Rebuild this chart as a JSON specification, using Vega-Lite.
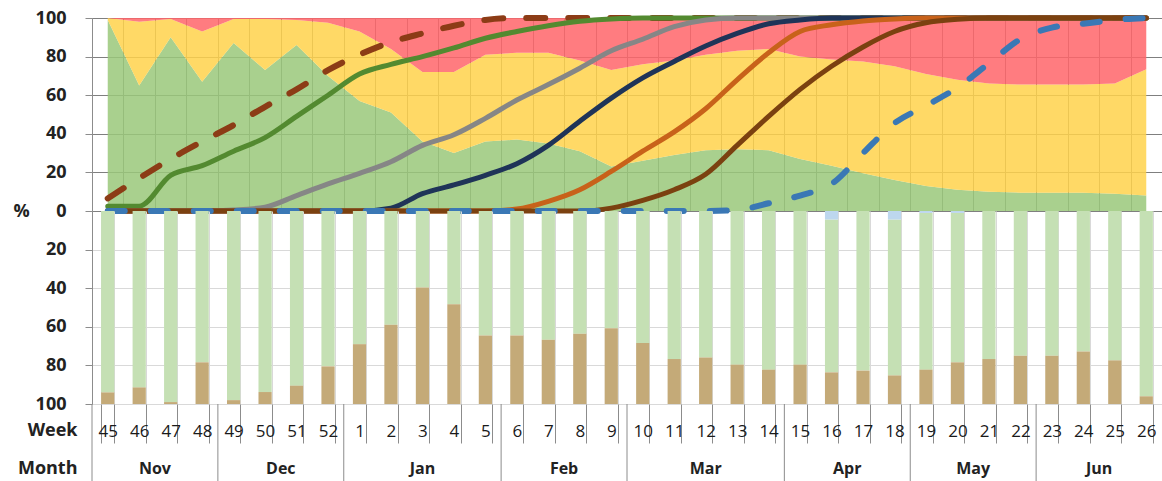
{
  "$schema": "https://vega.github.io/schema/vega-lite/v6.json",
  "background": "white",
  "padding": {"left": 13, "top": 6, "right": 0, "bottom": 0},
  "autosize": {"type": "pad"},
  "config": {
    "font": "Open Sans",
    "view": {"stroke": null},
    "axis": {"labelColor": "#222222", "titleColor": "#222222"},
    "axisY": {"labelOverlap": false, "labelFontSize": 18, "labelFontWeight": "bold", "labelPadding": 19, "tickSize": 7, "tickColor": "#8c8c8c", "domainColor": "#8c8c8c", "grid": true}
  },
  "datasets": {
    "weeks": [
      {"week": "45", "green": 99, "yellowTop": 100, "dashBrown": 6.5, "greenLine": 2.5, "gray": 0, "navy": 0, "orange": 0, "brown": 0, "dashBlue": 0, "barBlue": 0, "barGreen": 94, "barTan": 6},
      {"week": "46", "green": 65, "yellowTop": 98, "dashBrown": 17, "greenLine": 2.5, "gray": 0, "navy": 0, "orange": 0, "brown": 0, "dashBlue": 0, "barBlue": 0, "barGreen": 91.4, "barTan": 8.6},
      {"week": "47", "green": 90, "yellowTop": 99.5, "dashBrown": 27, "greenLine": 18.5, "gray": 0, "navy": 0, "orange": 0, "brown": 0, "dashBlue": 0, "barBlue": 0, "barGreen": 99, "barTan": 1},
      {"week": "48", "green": 67, "yellowTop": 93, "dashBrown": 36, "greenLine": 23.5, "gray": 0, "navy": 0, "orange": 0, "brown": 0, "dashBlue": 0, "barBlue": 0, "barGreen": 78.4, "barTan": 21.6},
      {"week": "49", "green": 87, "yellowTop": 99.5, "dashBrown": 44.5, "greenLine": 31, "gray": 0.5, "navy": 0, "orange": 0, "brown": 0, "dashBlue": 0, "barBlue": 0, "barGreen": 98, "barTan": 2},
      {"week": "50", "green": 73, "yellowTop": 99.5, "dashBrown": 54, "greenLine": 38, "gray": 2, "navy": 0, "orange": 0, "brown": 0, "dashBlue": 0, "barBlue": 0, "barGreen": 93.8, "barTan": 6.2},
      {"week": "51", "green": 86, "yellowTop": 99, "dashBrown": 63, "greenLine": 49, "gray": 8, "navy": 0, "orange": 0, "brown": 0, "dashBlue": 0, "barBlue": 0, "barGreen": 90.5, "barTan": 9.5},
      {"week": "52", "green": 70, "yellowTop": 97.5, "dashBrown": 73, "greenLine": 60, "gray": 14, "navy": 0, "orange": 0, "brown": 0, "dashBlue": 0, "barBlue": 0, "barGreen": 80.5, "barTan": 19.5},
      {"week": "1", "green": 57, "yellowTop": 93, "dashBrown": 81, "greenLine": 71, "gray": 19.5, "navy": 0, "orange": 0, "brown": 0, "dashBlue": 0, "barBlue": 0, "barGreen": 69, "barTan": 31},
      {"week": "2", "green": 51, "yellowTop": 84, "dashBrown": 87.5, "greenLine": 76, "gray": 25.5, "navy": 1.5, "orange": 0, "brown": 0, "dashBlue": 0, "barBlue": 0, "barGreen": 59, "barTan": 41},
      {"week": "3", "green": 36, "yellowTop": 72, "dashBrown": 92, "greenLine": 80, "gray": 34, "navy": 9, "orange": 0, "brown": 0, "dashBlue": 0, "barBlue": 0, "barGreen": 39.7, "barTan": 60.3},
      {"week": "4", "green": 30, "yellowTop": 72, "dashBrown": 96, "greenLine": 84.5, "gray": 39.5, "navy": 13.5, "orange": 0, "brown": 0, "dashBlue": 0, "barBlue": 0, "barGreen": 48.3, "barTan": 51.7},
      {"week": "5", "green": 36, "yellowTop": 81, "dashBrown": 99, "greenLine": 89.5, "gray": 48, "navy": 18.5, "orange": 0, "brown": 0, "dashBlue": 0, "barBlue": 0, "barGreen": 64.5, "barTan": 35.5},
      {"week": "6", "green": 37, "yellowTop": 82, "dashBrown": 100, "greenLine": 93, "gray": 57.5, "navy": 24.5, "orange": 1, "brown": 0, "dashBlue": 0, "barBlue": 0, "barGreen": 64.5, "barTan": 35.5},
      {"week": "7", "green": 35, "yellowTop": 82, "dashBrown": 100, "greenLine": 96, "gray": 65.5, "navy": 34, "orange": 5, "brown": 0, "dashBlue": 0, "barBlue": 0, "barGreen": 66.7, "barTan": 33.3},
      {"week": "8", "green": 31, "yellowTop": 78, "dashBrown": 100, "greenLine": 98.3, "gray": 74, "navy": 46.5, "orange": 11, "brown": 0, "dashBlue": 0, "barBlue": 0, "barGreen": 63.6, "barTan": 36.4},
      {"week": "9", "green": 23, "yellowTop": 73, "dashBrown": 100, "greenLine": 99.5, "gray": 83, "navy": 58.5, "orange": 20.5, "brown": 1.5, "dashBlue": 0, "barBlue": 0, "barGreen": 60.7, "barTan": 39.3},
      {"week": "10", "green": 26, "yellowTop": 76, "dashBrown": 100, "greenLine": 100, "gray": 89, "navy": 69, "orange": 31, "brown": 5.5, "dashBlue": 0, "barBlue": 0, "barGreen": 68.4, "barTan": 31.6},
      {"week": "11", "green": 29, "yellowTop": 78, "dashBrown": 100, "greenLine": 100, "gray": 95.5, "navy": 77.5, "orange": 41, "brown": 11, "dashBlue": 0, "barBlue": 0, "barGreen": 76.7, "barTan": 23.3},
      {"week": "12", "green": 31.5, "yellowTop": 81, "dashBrown": 100, "greenLine": 100, "gray": 99, "navy": 85.5, "orange": 53, "brown": 19, "dashBlue": 0, "barBlue": 0, "barGreen": 75.9, "barTan": 24.1},
      {"week": "13", "green": 32, "yellowTop": 83, "dashBrown": 100, "greenLine": 100, "gray": 100, "navy": 92, "orange": 68, "brown": 34, "dashBlue": 0.5, "barBlue": 0, "barGreen": 79.6, "barTan": 20.4},
      {"week": "14", "green": 31.5, "yellowTop": 84, "dashBrown": 100, "greenLine": 100, "gray": 100, "navy": 97, "orange": 82, "brown": 49, "dashBlue": 4, "barBlue": 0, "barGreen": 82.2, "barTan": 17.8},
      {"week": "15", "green": 27, "yellowTop": 80, "dashBrown": 100, "greenLine": 100, "gray": 100, "navy": 99, "orange": 93, "brown": 63, "dashBlue": 8, "barBlue": 0, "barGreen": 79.6, "barTan": 20.4},
      {"week": "16", "green": 23.5, "yellowTop": 78.5, "dashBrown": 100, "greenLine": 100, "gray": 100, "navy": 100, "orange": 96.5, "brown": 75, "dashBlue": 14, "barBlue": 4.5, "barGreen": 79.1, "barTan": 16.4},
      {"week": "17", "green": 19.5, "yellowTop": 77.5, "dashBrown": 100, "greenLine": 100, "gray": 100, "navy": 100, "orange": 98.5, "brown": 85, "dashBlue": 30, "barBlue": 0, "barGreen": 82.7, "barTan": 17.3},
      {"week": "18", "green": 16, "yellowTop": 75, "dashBrown": 100, "greenLine": 100, "gray": 100, "navy": 100, "orange": 99.5, "brown": 93, "dashBlue": 45.5, "barBlue": 4.5, "barGreen": 80.7, "barTan": 14.8},
      {"week": "19", "green": 13, "yellowTop": 71, "dashBrown": 100, "greenLine": 100, "gray": 100, "navy": 100, "orange": 100, "brown": 97.5, "dashBlue": 54.5, "barBlue": 1, "barGreen": 81.2, "barTan": 17.8},
      {"week": "20", "green": 11, "yellowTop": 68, "dashBrown": 100, "greenLine": 100, "gray": 100, "navy": 100, "orange": 100, "brown": 99.3, "dashBlue": 64, "barBlue": 1, "barGreen": 77.4, "barTan": 21.6},
      {"week": "21", "green": 10, "yellowTop": 66, "dashBrown": 100, "greenLine": 100, "gray": 100, "navy": 100, "orange": 100, "brown": 100, "dashBlue": 76.5, "barBlue": 0, "barGreen": 76.7, "barTan": 23.3},
      {"week": "22", "green": 9.5, "yellowTop": 65.5, "dashBrown": 100, "greenLine": 100, "gray": 100, "navy": 100, "orange": 100, "brown": 100, "dashBlue": 89, "barBlue": 0, "barGreen": 75, "barTan": 25},
      {"week": "23", "green": 9.5, "yellowTop": 65.5, "dashBrown": 100, "greenLine": 100, "gray": 100, "navy": 100, "orange": 100, "brown": 100, "dashBlue": 95, "barBlue": 0, "barGreen": 75, "barTan": 25},
      {"week": "24", "green": 9.5, "yellowTop": 65.5, "dashBrown": 100, "greenLine": 100, "gray": 100, "navy": 100, "orange": 100, "brown": 100, "dashBlue": 97, "barBlue": 0, "barGreen": 72.8, "barTan": 27.2},
      {"week": "25", "green": 9, "yellowTop": 66, "dashBrown": 100, "greenLine": 100, "gray": 100, "navy": 100, "orange": 100, "brown": 100, "dashBlue": 99, "barBlue": 0, "barGreen": 77.4, "barTan": 22.6},
      {"week": "26", "green": 8, "yellowTop": 73.5, "dashBrown": 100, "greenLine": 100, "gray": 100, "navy": 100, "orange": 100, "brown": 100, "dashBlue": 100, "barBlue": 0, "barGreen": 96, "barTan": 4}
    ],
    "months": [
      {"month": "Nov", "weeks": 4, "seq": 1},
      {"month": "Dec", "weeks": 4, "seq": 2},
      {"month": "Jan", "weeks": 5, "seq": 3},
      {"month": "Feb", "weeks": 4, "seq": 4},
      {"month": "Mar", "weeks": 5, "seq": 5},
      {"month": "Apr", "weeks": 4, "seq": 6},
      {"month": "May", "weeks": 4, "seq": 7},
      {"month": "Jun", "weeks": 4, "seq": 8}
    ]
  },
  "spacing": 0,
  "bounds": "flush",
  "resolve": {"scale": {"x": "independent", "y": "independent", "color": "independent"}},
  "vconcat": [
    {
      "width": 1070,
      "height": 193,
      "data": {"name": "weeks"},
      "encoding": {
        "x": {
          "field": "week", "type": "ordinal", "bandPosition": 0.5,
          "scale": {"type": "band", "domain": ["45","46","47","48","49","50","51","52","1","2","3","4","5","6","7","8","9","10","11","12","13","14","15","16","17","18","19","20","21","22","23","24","25","26"], "paddingInner": 0, "paddingOuter": 0},
          "axis": {"title": null, "labels": false, "ticks": false, "domain": false, "grid": true, "tickBand": "extent", "gridColor": "#7f7f7f", "gridWidth": 1}
        }
      },
      "layer": [
        {
          "mark": {"type": "area", "color": "#9ac87a", "opacity": 0.85},
          "encoding": {
            "y": {"field": "green", "type": "quantitative", "title": "%",
              "scale": {"domain": [0, 100], "nice": false},
              "axis": {"values": [0, 20, 40, 60, 80, 100], "labelOverlap": false, "title": "%", "titleAngle": 0, "titleX": -79, "titleY": 193, "titleAlign": "left", "titleBaseline": "middle", "titleFontSize": 18, "titleFontWeight": "bold", "gridColor": "#7f7f7f"}},
            "y2": {"datum": 0}
          }
        },
        {
          "mark": {"type": "area", "color": "#ffd24b", "opacity": 0.85},
          "encoding": {"y": {"field": "yellowTop", "type": "quantitative", "title": "%", "axis": {"values": [0, 20, 40, 60, 80, 100], "labelOverlap": false}}, "y2": {"field": "green"}}
        },
        {
          "mark": {"type": "area", "color": "#ff656a", "opacity": 0.85},
          "encoding": {"y": {"field": "yellowTop", "type": "quantitative", "title": "%", "axis": {"values": [0, 20, 40, 60, 80, 100], "labelOverlap": false}}, "y2": {"datum": 100}}
        },
        {
          "mark": {"type": "line", "color": "#8c3c16", "strokeWidth": 6, "interpolate": "monotone", "strokeCap": "round", "strokeDash": [19, 23]},
          "encoding": {"y": {"field": "dashBrown", "type": "quantitative", "title": "%", "axis": {"values": [0, 20, 40, 60, 80, 100], "labelOverlap": false}}}
        },
        {
          "mark": {"type": "line", "color": "#538a30", "strokeWidth": 5, "interpolate": "monotone", "strokeCap": "round"},
          "encoding": {"y": {"field": "greenLine", "type": "quantitative", "title": "%", "axis": {"values": [0, 20, 40, 60, 80, 100], "labelOverlap": false}}}
        },
        {
          "mark": {"type": "line", "color": "#868686", "strokeWidth": 5, "interpolate": "monotone", "strokeCap": "round"},
          "encoding": {"y": {"field": "gray", "type": "quantitative", "title": "%", "axis": {"values": [0, 20, 40, 60, 80, 100], "labelOverlap": false}}}
        },
        {
          "mark": {"type": "line", "color": "#1f3458", "strokeWidth": 5, "interpolate": "monotone", "strokeCap": "round"},
          "encoding": {"y": {"field": "navy", "type": "quantitative", "title": "%", "axis": {"values": [0, 20, 40, 60, 80, 100], "labelOverlap": false}}}
        },
        {
          "mark": {"type": "line", "color": "#c8621a", "strokeWidth": 5, "interpolate": "monotone", "strokeCap": "round"},
          "encoding": {"y": {"field": "orange", "type": "quantitative", "title": "%", "axis": {"values": [0, 20, 40, 60, 80, 100], "labelOverlap": false}}}
        },
        {
          "mark": {"type": "line", "color": "#7b4110", "strokeWidth": 5, "interpolate": "monotone", "strokeCap": "round"},
          "encoding": {"y": {"field": "brown", "type": "quantitative", "title": "%", "axis": {"values": [0, 20, 40, 60, 80, 100], "labelOverlap": false}}}
        },
        {
          "mark": {"type": "line", "color": "#3a78b5", "strokeWidth": 6, "interpolate": "monotone", "strokeCap": "round", "strokeDash": [17, 26]},
          "encoding": {"y": {"field": "dashBlue", "type": "quantitative", "title": "%", "axis": {"values": [0, 20, 40, 60, 80, 100], "labelOverlap": false}}}
        }
      ]
    },
    {
      "width": 1070,
      "height": 193,
      "data": {"name": "weeks"},
      "transform": [{"fold": ["barBlue", "barGreen", "barTan"], "as": ["part", "share"]}],
      "mark": {"type": "bar"},
      "encoding": {
        "x": {
          "field": "week", "type": "ordinal",
          "scale": {"type": "band", "domain": ["45","46","47","48","49","50","51","52","1","2","3","4","5","6","7","8","9","10","11","12","13","14","15","16","17","18","19","20","21","22","23","24","25","26"], "paddingInner": 0.58, "paddingOuter": 0.29},
          "axis": {"title": null, "labelAngle": 0, "labelFontSize": 17, "labelColor": "#1a1a1a", "labelPadding": -11.5, "labelBaseline": "middle", "tickBand": "extent", "tickSize": 39, "tickColor": "#8c8c8c", "domain": false, "grid": true, "gridColor": "#d9d9d9"}
        },
        "y": {
          "field": "share", "type": "quantitative", "stack": "zero",
          "scale": {"domain": [0, 100], "reverse": true, "nice": false},
          "axis": {"title": null, "values": [20, 40, 60, 80, 100], "gridColor": "#d9d9d9"}
        },
        "color": {
          "field": "part", "type": "nominal",
          "scale": {"domain": ["barBlue", "barGreen", "barTan"], "range": ["#bdd7ee", "#c5e0b4", "#c4aa78"]},
          "legend": null
        },
        "order": {"field": "part", "type": "nominal", "sort": "ascending"}
      }
    },
    {
      "width": 1070,
      "height": 78,
      "data": {"name": "months"},
      "layer": [
        {
          "transform": [{"stack": "weeks", "groupby": [], "sort": [{"field": "seq", "order": "ascending"}], "as": ["m0", "m1"]}],
          "mark": {"type": "rule", "color": "#8c8c8c", "strokeWidth": 1},
          "encoding": {
            "x": {"field": "m0", "type": "quantitative", "scale": {"domain": [0, 34], "nice": false, "zero": true}, "axis": null}
          }
        },
        {
          "mark": {"type": "text", "fontSize": 16, "fontWeight": "bold", "color": "#222222"},
          "encoding": {
            "x": {"field": "weeks", "type": "quantitative", "stack": "zero", "bandPosition": 0.5, "scale": {"domain": [0, 34], "nice": false, "zero": true}, "axis": null},
            "order": {"field": "seq", "type": "quantitative"},
            "detail": {"field": "month"},
            "y": {"datum": "Month", "type": "nominal",
              "scale": {"type": "band", "domain": ["Week", "Month"], "paddingInner": 0.5, "paddingOuter": 0.2763, "align": 0.848},
              "axis": {"title": null, "grid": false, "ticks": false, "domain": false, "labelPadding": 15}},
            "text": {"field": "month"}
          }
        }
      ]
    }
  ]
}
